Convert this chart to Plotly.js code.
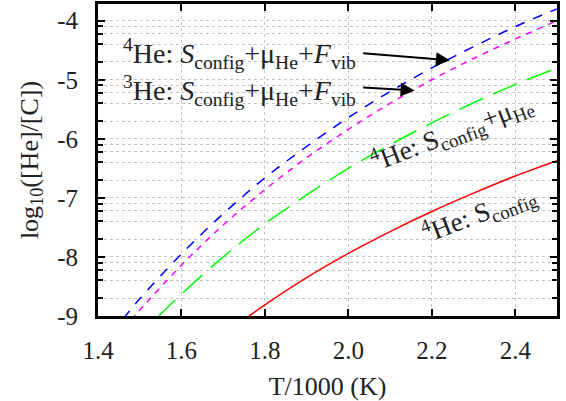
<!DOCTYPE html>
<html>
<head>
<meta charset="utf-8">
<script src="https://cdn.plot.ly/plotly-3.0.1.min.js"></script>
<style>
html,body{margin:0;padding:0;background:#fff;}
#wrap{position:relative;width:566px;height:401px;}
#chart{width:566px;height:401px;}
.rotlabel{position:absolute;white-space:nowrap;font-family:"Liberation Serif","Times New Roman",serif;font-size:27px;color:#222;line-height:1;pointer-events:none;transform-origin:50% 50%;}
.rotlabel sub,.rotlabel sup{font-size:70%;line-height:0;}
.rotlabel sub{vertical-align:-0.3em;}
.rotlabel sup{vertical-align:0.55em;}
</style>
</head>
<body>
<div id="wrap">
<div id="chart"></div>
</div>
<script>
// 4He: S_config (red, solid)
const xRed = [1.76, 1.77, 1.8, 1.9, 2.0, 2.1, 2.2, 2.3, 2.4, 2.5];
const yRed = [-9.01, -8.96, -8.81, -8.35, -7.94, -7.57, -7.23, -6.92, -6.63, -6.37];
// 4He: S_config + mu_He (green, long dash)
const xGreen = [1.54, 1.6, 1.7, 1.8, 1.9, 2.0, 2.1, 2.2, 2.3, 2.4, 2.5];
const yGreen = [-9.04, -8.63, -8.00, -7.44, -6.95, -6.50, -6.10, -5.73, -5.39, -5.08, -4.80];
// 4He: S_config + mu_He + F_vib (blue, dash)
const xBlue = [1.46, 1.5, 1.6, 1.7, 1.8, 1.9, 2.0, 2.1, 2.2, 2.3, 2.4, 2.5];
const yBlue = [-9.05, -8.71, -7.95, -7.27, -6.66, -6.13, -5.64, -5.20, -4.80, -4.44, -4.10, -3.80];
// 3He: S_config + mu_He + F_vib (magenta, short dash)
const xMag = [1.48, 1.5, 1.6, 1.7, 1.8, 1.9, 2.0, 2.1, 2.2, 2.3, 2.4, 2.5];
const yMag = [-9.07, -8.90, -8.14, -7.46, -6.86, -6.32, -5.84, -5.40, -5.00, -4.64, -4.31, -4.00];

const xTicks = [1.4, 1.6, 1.8, 2.0, 2.2, 2.4];
const xTickText = ['1.4', '1.6', '1.8', '2.0', '2.2', '2.4'];
const yTicks = [-9, -8, -7, -6, -5, -4];
const yTickText = ['-9', '-8', '-7', '-6', '-5', '-4'];
const yMinorMantissa = [2, 4, 6, 8];
const yDecades = [-10, -9, -8, -7, -6, -5];

const labelTop1 = '<sup>4</sup>He: <i>S</i><sub>config</sub>+μ<sub>He</sub>+<i>F</i><sub>vib</sub>';
const labelTop2 = '<sup>3</sup>He: <i>S</i><sub>config</sub>+μ<sub>He</sub>+<i>F</i><sub>vib</sub>';
const labelGreen = '<sup>4</sup>He: S<sub>config</sub>+μ<sub>He</sub>';
const labelRed = '<sup>4</sup>He: S<sub>config</sub>';

const yMinor = [];
yDecades.forEach(d => yMinorMantissa.forEach(m => yMinor.push(d + Math.log10(m))));

const serif = '"Liberation Serif", "Times New Roman", serif';
const LABEL_ANGLE = -21;
const X_RANGE = [1.4, 2.5];
const Y_RANGE = [-9, -3.717];
const MARGIN = {l: 98, r: 9, t: 4, b: 85};
const W = 566, H = 401;

const traces = [
  {x: xRed, y: yRed, mode: 'lines', line: {color: '#ff0000', width: 1.5, shape: 'spline'}},
  {x: xGreen, y: yGreen, mode: 'lines', line: {color: '#00ff00', width: 1.5, dash: '26px,11px', shape: 'spline'}},
  {x: xBlue, y: yBlue, mode: 'lines', line: {color: '#0000ff', width: 1.5, dash: '10px,9px', shape: 'spline'}},
  {x: xMag, y: yMag, mode: 'lines', line: {color: '#ff00ff', width: 1.5, dash: '6px,6px', shape: 'spline'}}
];

const layout = {
  width: W, height: H,
  margin: MARGIN,
  paper_bgcolor: '#fff', plot_bgcolor: '#fff',
  showlegend: false,
  font: {family: serif, size: 25, color: '#222'},
  xaxis: {
    range: X_RANGE,
    tickmode: 'array', tickvals: xTicks, ticktext: xTickText,
    ticks: 'inside', ticklen: 7, tickwidth: 2, tickcolor: '#000',
    showline: true, linewidth: 3, linecolor: '#000', mirror: 'ticks',
    showgrid: true, gridcolor: '#c4c4c4', griddash: 'dot', gridwidth: 1,
    zeroline: false,
    ticklabelstandoff: 10,
    tickfont: {family: serif, size: 25, color: '#222'},
    title: {text: 'T/1000 (K)', font: {family: serif, size: 26, color: '#222'}, standoff: 14}
  },
  yaxis: {
    range: Y_RANGE,
    tickmode: 'array', tickvals: yTicks, ticktext: yTickText,
    ticks: 'inside', ticklen: 7, tickwidth: 2, tickcolor: '#000',
    showline: true, linewidth: 3, linecolor: '#000', mirror: 'ticks',
    showgrid: true, gridcolor: '#c4c4c4', griddash: 'dot', gridwidth: 1,
    zeroline: false,
    ticklabelstandoff: 12,
    tickfont: {family: serif, size: 25, color: '#222'},
    minor: {tickmode: 'array', tickvals: yMinor, ticks: 'inside', ticklen: 5, tickwidth: 2, tickcolor: '#000',
            showgrid: true, gridcolor: '#c4c4c4', griddash: 'dot', gridwidth: 1},
    title: {text: 'log<sub>10</sub>([He]/[C])', font: {family: serif, size: 26, color: '#222'}, standoff: 12}
  },
  annotations: [
    {x: 1.456, y: -4.56, xref: 'x', yref: 'y', xanchor: 'left', yanchor: 'middle', showarrow: false,
     text: labelTop1, font: {family: serif, size: 28, color: '#222'}},
    {x: 1.456, y: -5.19, xref: 'x', yref: 'y', xanchor: 'left', yanchor: 'middle', showarrow: false,
     text: labelTop2, font: {family: serif, size: 28, color: '#222'}},
    {x: 2.2434, y: -4.67, ax: 2.032, ay: -4.55, xref: 'x', yref: 'y', axref: 'x', ayref: 'y',
     text: '', showarrow: true, arrowhead: 2, arrowsize: 1.4, arrowwidth: 2, arrowcolor: '#000'},
    {x: 2.1587, y: -5.18, ax: 2.032, ay: -5.13, xref: 'x', yref: 'y', axref: 'x', ayref: 'y',
     text: '', showarrow: true, arrowhead: 2, arrowsize: 1.4, arrowwidth: 2, arrowcolor: '#000'}
  ]
};

// sloped curve labels: rotated text placed in data coordinates
const slopedLabels = [
  {x: 2.248, y: -5.90, html: labelGreen},
  {x: 2.313, y: -7.27, html: labelRed}
];

function dataToPx(x, y) {
  const pw = W - MARGIN.l - MARGIN.r, ph = H - MARGIN.t - MARGIN.b;
  return {
    px: MARGIN.l + (x - X_RANGE[0]) / (X_RANGE[1] - X_RANGE[0]) * pw,
    py: MARGIN.t + (Y_RANGE[1] - y) / (Y_RANGE[1] - Y_RANGE[0]) * ph
  };
}

const wrap = document.getElementById('wrap');
slopedLabels.forEach(function (lab) {
  const p = dataToPx(lab.x, lab.y);
  const d = document.createElement('div');
  d.className = 'rotlabel';
  d.innerHTML = lab.html;
  d.style.left = p.px + 'px';
  d.style.top = p.py + 'px';
  d.style.transform = 'translate(-50%,-50%) rotate(' + LABEL_ANGLE + 'deg)';
  wrap.appendChild(d);
});

Plotly.newPlot('chart', traces, layout, {displayModeBar: false});
</script>
</body>
</html>
